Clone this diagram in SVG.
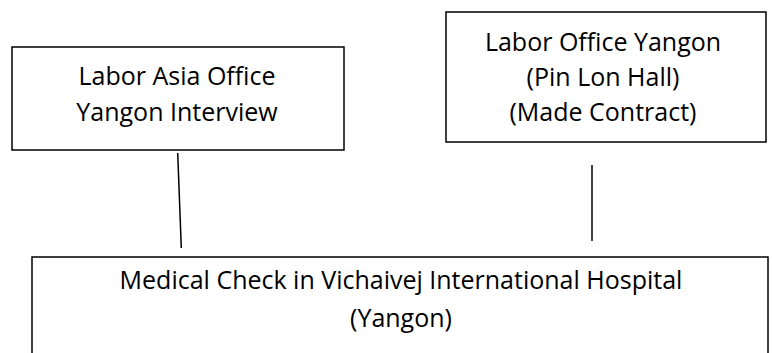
<svg xmlns="http://www.w3.org/2000/svg" width="772" height="353" viewBox="0 0 772 353">
<style>
.box{fill:#fff;stroke:#000;stroke-width:1.5}
.t{font-family:"Open Sans","Liberation Sans",sans-serif;font-size:25px;fill:#000;text-anchor:middle}
.c{stroke:#000;stroke-width:1.5;fill:none}
</style>
<rect width="772" height="353" fill="#fff"/>
<g id="n1">
<rect class="box" x="12" y="47" width="332" height="103"/>
<text class="t" x="177" y="85">Labor Asia Office</text>
<text class="t" x="177" y="121">Yangon Interview</text>
</g>
<g id="n2">
<rect class="box" x="446" y="12" width="320" height="130"/>
<text class="t" x="603" y="51">Labor Office Yangon</text>
<text class="t" x="603" y="86">(Pin Lon Hall)</text>
<text class="t" x="603" y="121">(Made Contract)</text>
</g>
<g id="n3">
<rect class="box" x="32" y="257" width="736" height="110"/>
<text class="t" x="401" y="289">Medical Check in Vichaivej International Hospital</text>
<text class="t" x="401" y="327">(Yangon)</text>
</g>
<g id="connectors">
<line class="c" x1="177.7" y1="153" x2="181.3" y2="248"/>
<line class="c" x1="592" y1="165" x2="592" y2="241"/>
</g>
</svg>
